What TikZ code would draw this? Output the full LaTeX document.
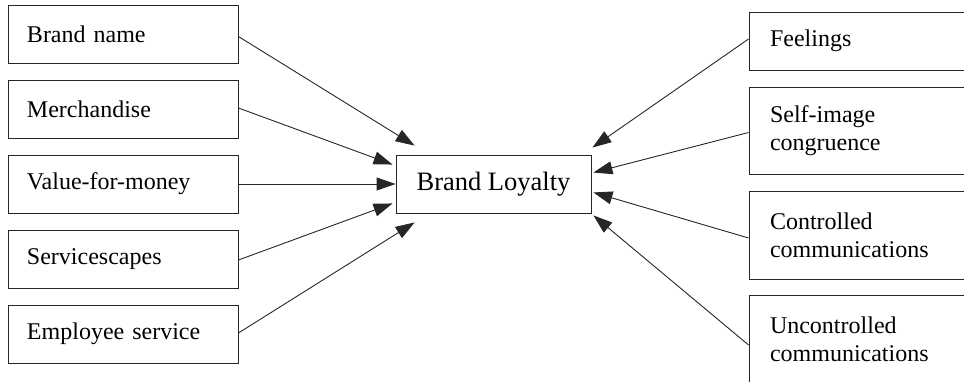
\documentclass[tikz,border=0pt]{standalone}
\usepackage{fontspec}
\setmainfont{Liberation Serif}
\usetikzlibrary{arrows.meta}
\begin{document}
\begin{tikzpicture}[x=1pt,y=-1pt,
  lbox/.style={draw=black!85, line width=0.9pt, minimum width=230pt, minimum height=58pt,
    text width=192pt, inner xsep=19pt, inner ysep=0pt, align=left, font=\fontsize{24}{28}\selectfont},
  rbox/.style={lbox, minimum width=226pt, text width=184pt, inner xsep=21pt},
  cbox/.style={draw=black!85, line width=0.9pt, minimum width=195pt, minimum height=58pt,
    inner sep=0pt, font=\fontsize{26.5}{30}\selectfont},
  arr/.style={draw=black!85, line width=0.9pt, -{Triangle[length=19pt,width=13pt]}}]
\useasboundingbox (0,0) rectangle (964,382);
% left boxes
\node[lbox] (l1) at (123,34.5) {Brand name};
\node[lbox] (l2) at (123,109) {Merchandise};
\node[lbox] (l3) at (123,184) {Value-for-money};
\node[lbox] (l4) at (123,259) {Servicescapes};
\node[lbox] (l5) at (123,334) {Employee service};
% centre
\node[cbox] (c) at (493.5,184) {Brand Loyalty};
% right boxes
\node[rbox, minimum height=58pt] (r1) at (862,41) {Feelings};
\node[rbox, minimum height=87pt] (r2) at (862,130.5) {Self-image\\congruence};
\node[rbox, minimum height=88pt] (r3) at (862,235) {Controlled\\communications};
\node[rbox, minimum height=88pt] (r4) at (862,339) {Uncontrolled\\communications};
% tips
\coordinate (t1) at ([shift={(19,-9)}]c.north west);
\coordinate (t2) at ([shift={(-3,10)}]c.north west);
\coordinate (t3) at (c.west);
\coordinate (t4) at ([shift={(-3,-10)}]c.south west);
\coordinate (t5) at ([shift={(19,9)}]c.south west);
\coordinate (u1) at ([shift={(1,-7)}]c.north east);
\coordinate (u2) at ([shift={(2,18)}]c.north east);
\coordinate (u3) at ([shift={(2,-21)}]c.south east);
\coordinate (u4) at ([shift={(2,2)}]c.south east);
% connectors
\draw[arr] ([yshift=-2]l1.east) -- (t1);
\draw[arr] ([yshift=1]l2.east) -- (t2);
\draw[arr] (l3.east) -- (t3);
\draw[arr] ([yshift=-1]l4.east) -- (t4);
\draw[arr] ([yshift=1]l5.east) -- (t5);
\draw[arr] ([yshift=2]r1.west) -- (u1);
\draw[arr] ([yshift=-2]r2.west) -- (u2);
\draw[arr] ([yshift=-3]r3.west) -- (u3);
\draw[arr] ([yshift=-6]r4.west) -- (u4);
\end{tikzpicture}
\end{document}
